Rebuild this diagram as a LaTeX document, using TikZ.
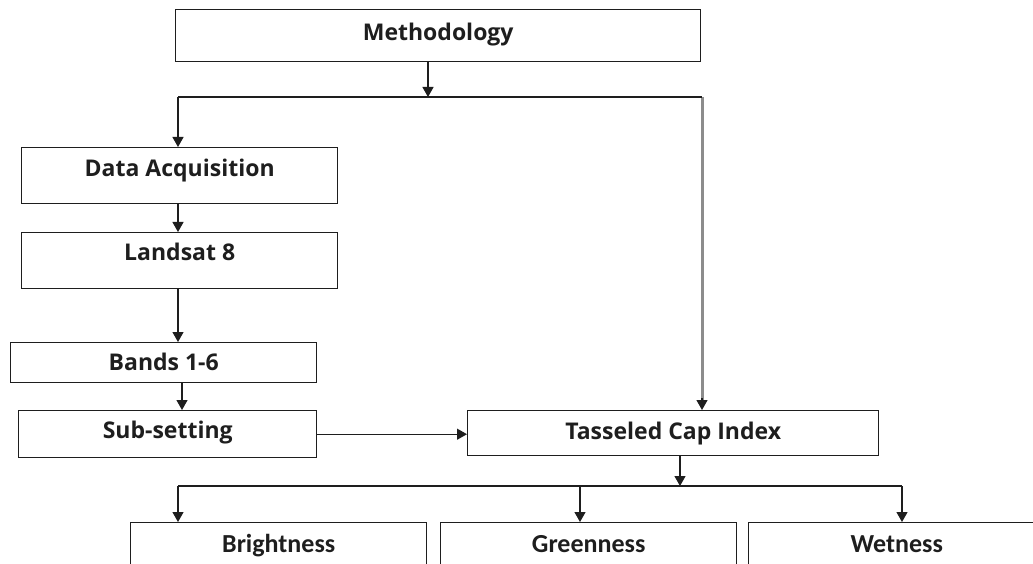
\documentclass[tikz,border=0pt]{standalone}
\usepackage{fontspec}
\setmainfont{Open Sans}
\newfontfamily\branchfont{Carlito}
\usetikzlibrary{arrows.meta}
\definecolor{flowcolor0000}{RGB}{30,30,30}
\definecolor{flowcolor0001}{RGB}{140,140,140}
\definecolor{flowcolor0002}{RGB}{255,255,255}

\begin{document}
\begin{tikzpicture}[yscale=-1
,boxstyle/.style={draw=flowcolor0000,line width=1.4pt,rectangle,inner xsep=0pt,inner ysep=0pt,anchor=north west,text=flowcolor0000,font=\bfseries\fontsize{23}{26}\selectfont}
,leafstyle/.style={boxstyle,minimum width=296pt,text height=29.7pt,text depth=30pt,font=\branchfont\bfseries\fontsize{26}{28}\selectfont}
,pstyle/.style={color=flowcolor0000,line width=1.2pt}
,parrow/.style={pstyle,-{Triangle[length=10pt,width=11pt]}}
]
\useasboundingbox[fill=flowcolor0002] (0pt,0pt) rectangle (1033pt,564pt);
\clip (0pt,0pt) rectangle (1033pt,564pt);
% boxes
\node[boxstyle,minimum width=525pt,text height=31.2pt,text depth=20.8pt] (meth) at (175pt,9pt) {Methodology};
\node[boxstyle,minimum width=316pt,text height=29.2pt,text depth=26.8pt] (data) at (21pt,147pt) {Data Acquisition};
\node[boxstyle,minimum width=316pt,text height=28.2pt,text depth=27.8pt] (land) at (21pt,232pt) {Landsat 8};
\node[boxstyle,minimum width=306pt,text height=28.2pt,text depth=11.8pt] (bands) at (10pt,342pt) {Bands 1-6};
\node[boxstyle,minimum width=298pt,text height=28.2pt,text depth=18.8pt] (sub) at (18pt,410pt) {Sub-setting};
\node[boxstyle,minimum width=411pt,text height=29.2pt,text depth=15.8pt] (tci) at (467pt,410pt) {Tasseled Cap Index};
\node[leafstyle] (bright) at (130pt,522pt) {Brightness};
\node[leafstyle] (green) at (440pt,522pt) {Greenness};
\node[leafstyle] (wet) at (748pt,522pt) {Wetness};
% upper connectors
\coordinate (topsplit) at (428pt,97pt);
\coordinate (leftturn) at (178pt,97pt);
\coordinate (rightturn) at (702pt,97pt);
\coordinate (bandsdrop) at (182pt,382pt);
\draw[parrow] (topsplit |- meth.south) -- (topsplit);
\draw[color=flowcolor0001,line width=3pt] (rightturn) -- ([yshift=-8pt]rightturn |- tci.north);
\draw[pstyle] (leftturn) -- (rightturn);
\draw[parrow] (leftturn) -- (leftturn |- data.north);
\draw[parrow] (leftturn |- data.south) -- (leftturn |- land.north);
\draw[parrow] (leftturn |- land.south) -- (leftturn |- bands.north);
\draw[parrow] (bandsdrop |- bands.south) -- (bandsdrop |- sub.north);
\draw[parrow] (sub.east) -- (sub.east -| tci.west);
\draw[parrow] ([yshift=-12pt]rightturn |- tci.north) -- (rightturn |- tci.north);
% lower connectors
\coordinate (botsplit) at (680pt,486pt);
\coordinate (botleft) at (178pt,486pt);
\coordinate (botmid) at (580pt,486pt);
\coordinate (botright) at (902pt,486pt);
\draw[parrow] (botsplit |- tci.south) -- (botsplit);
\draw[pstyle] (botleft) -- (botright);
\draw[parrow] (botleft) -- (botleft |- bright.north);
\draw[parrow] (botmid) -- (botmid |- green.north);
\draw[parrow] (botright) -- (botright |- wet.north);
\end{tikzpicture}
\end{document}
